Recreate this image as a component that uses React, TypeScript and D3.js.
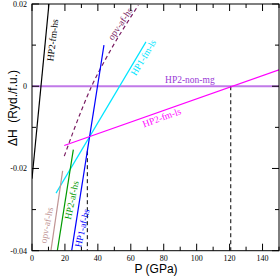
import React, { useEffect, useRef } from 'react';
import * as d3 from 'd3';

// enthalpy difference vs pressure
const hp2FmHs: [number, number][] = [[0, -0.0225], [10.3, 0.02]];
const opvAfHsDashed: [number, number][] = [[19.6, -0.017], [30.2, -0.0057], [36.2, 0], [44.3, 0.0063], [64.6, 0.0197]];
const hp1FmLs: [number, number][] = [[14.6, -0.026], [69.2, 0.0108]];
const hp1AfHs: [number, number][] = [[24.1, -0.04], [43.7, 0.01]];
const hp2AfHs: [number, number][] = [[15.4, -0.04], [25.1, -0.0154]];
const opvAfHs: [number, number][] = [[11.5, -0.04], [18.6, -0.0206]];
const hp2FmLs: [number, number][] = [[19.6, -0.0144], [150, 0.004]];
const hp2NonMg: [number, number][] = [[0, 0], [150, 0]];
const transitions: [number, number, number][] = [[33.6, -0.0158, -0.04], [120.7, 0, -0.04]];

const xTicks = [0, 20, 40, 60, 80, 100, 120, 140];
const xMinor = [10, 30, 50, 70, 90, 110, 130, 150];
const yTicks = [0.02, 0, -0.02, -0.04];
const yMinor = [0.01, -0.01, -0.03];

const App: React.FC = () => {
  const svgRef = useRef<SVGSVGElement>(null);

  useEffect(() => {
    if (!svgRef.current) return;
    const svg = d3.select(svgRef.current);
    svg.selectAll('*').remove();

    const x = d3.scaleLinear().domain([0, 150]).range([32, 279]);
    const y = d3.scaleLinear().domain([-0.04, 0.02]).range([250.7, 4]);
    const [x0, x1] = x.range();
    const [y0, y1] = y.range();

    svg.append('defs').append('clipPath').attr('id', 'plot')
      .append('rect').attr('x', x0).attr('y', y1).attr('width', x1 - x0).attr('height', y0 - y1);

    const g = svg.append('g').attr('clip-path', 'url(#plot)');
    const line = d3.line<[number, number]>().x(d => x(d[0])).y(d => y(d[1]));
    const curve = d3.line<[number, number]>().x(d => x(d[0])).y(d => y(d[1])).curve(d3.curveMonotoneX);

    // horizontal reference
    g.append('path').attr('d', line(hp2NonMg) || '')
      .style('fill', 'none').style('stroke', '#c07ae8').style('stroke-width', 2.2);

    // transition pressures
    transitions.forEach(t => {
      g.append('line')
        .attr('x1', x(t[0])).attr('x2', x(t[0]))
        .attr('y1', y(t[1])).attr('y2', y(t[2]))
        .style('stroke', '#000').style('stroke-width', 1).style('stroke-dasharray', '4,3');
    });

    const series: { d: [number, number][]; c: string; dash?: string; smooth?: boolean }[] = [
      { d: hp2FmHs, c: '#000000' },
      { d: opvAfHsDashed, c: '#7a1d62', dash: '4,3', smooth: true },
      { d: hp1FmLs, c: '#00e5ff' },
      { d: hp1AfHs, c: '#0000ff' },
      { d: hp2AfHs, c: '#009a00' },
      { d: opvAfHs, c: '#c09494' },
      { d: hp2FmLs, c: '#ff00ff' },
    ];
    series.forEach(s => {
      g.append('path').attr('d', (s.smooth ? curve(s.d) : line(s.d)) || '')
        .style('fill', 'none').style('stroke', s.c).style('stroke-width', 1.2)
        .style('stroke-dasharray', s.dash || null);
    });

    // curve labels
    const labels: { t: string; p: number; h: number; r: number; c: string }[] = [
      { t: 'HP2-fm-hs', p: 12.4, h: 0.0112, r: -83, c: '#000000' },
      { t: 'opv-af-hs', p: 53.5, h: 0.0152, r: -56, c: '#7a1d62' },
      { t: 'HP1-fm-ls', p: 67.6, h: 0.0070, r: -59, c: '#00e5ff' },
      { t: 'HP2-fm-ls', p: 78.8, h: -0.0076, r: -20, c: '#ff00ff' },
      { t: 'opv-af-hs', p: 8.8, h: -0.0338, r: -79, c: '#c09494' },
      { t: 'HP2-af-hs', p: 24.0, h: -0.0277, r: -78, c: '#009a00' },
      { t: 'HP1-af-hs', p: 30.4, h: -0.0345, r: -77, c: '#0000ff' },
    ];
    labels.forEach(l => {
      svg.append('text')
        .attr('transform', `translate(${x(l.p)},${y(l.h)}) rotate(${l.r})`)
        .attr('text-anchor', 'middle').attr('dy', '0.35em')
        .style('font-family', 'Liberation Serif').style('font-size', '9.5px')
        .style('fill', l.c).text(l.t);
    });
    svg.append('text')
      .attr('x', x(80.8)).attr('y', y(0.0007))
      .style('font-family', 'Liberation Serif').style('font-size', '9.5px')
      .style('fill', '#9a3ad6').text('HP2-non-mg');

    // frame and ticks
    const axes = svg.append('g').style('stroke', '#000').style('stroke-width', 1);
    axes.append('rect').attr('x', x0).attr('y', y1).attr('width', x1 - x0).attr('height', y0 - y1)
      .style('fill', 'none');
    const xt = (v: number, len: number) => {
      axes.append('line').attr('x1', x(v)).attr('x2', x(v)).attr('y1', y0).attr('y2', y0 - len);
      axes.append('line').attr('x1', x(v)).attr('x2', x(v)).attr('y1', y1).attr('y2', y1 + len);
    };
    const yt = (v: number, len: number) => {
      axes.append('line').attr('y1', y(v)).attr('y2', y(v)).attr('x1', x0).attr('x2', x0 + len);
      axes.append('line').attr('y1', y(v)).attr('y2', y(v)).attr('x1', x1).attr('x2', x1 - len);
    };
    xTicks.forEach(v => xt(v, 7));
    xMinor.forEach(v => xt(v, 4));
    yTicks.forEach(v => yt(v, 7));
    yMinor.forEach(v => yt(v, 4));

    xTicks.forEach(v => {
      svg.append('text').attr('x', x(v)).attr('y', y0 + 10).attr('text-anchor', 'middle')
        .style('font-family', 'Liberation Serif').style('font-size', '8px').text(String(v));
    });
    yTicks.forEach(v => {
      svg.append('text').attr('x', x0 - 5).attr('y', y(v)).attr('dy', '0.35em').attr('text-anchor', 'end')
        .style('font-family', 'Liberation Serif').style('font-size', '8px').text(String(v));
    });

    svg.append('text').attr('x', 156).attr('y', 273).attr('text-anchor', 'middle')
      .style('font-family', 'Liberation Sans').style('font-size', '12px').text('P (GPa)');
    svg.append('text').attr('transform', 'translate(17,108) rotate(-90)').attr('text-anchor', 'middle')
      .style('font-family', 'Liberation Sans').style('font-size', '12px').style('white-space', 'pre')
      .text('\u0394H  (Ryd./f.u.)');
  }, []);

  return (
    <svg ref={svgRef} width={280} height={276}
      style={{ position: 'absolute', left: 0, top: 0, background: '#fff' }} />
  );
};

export default App;
